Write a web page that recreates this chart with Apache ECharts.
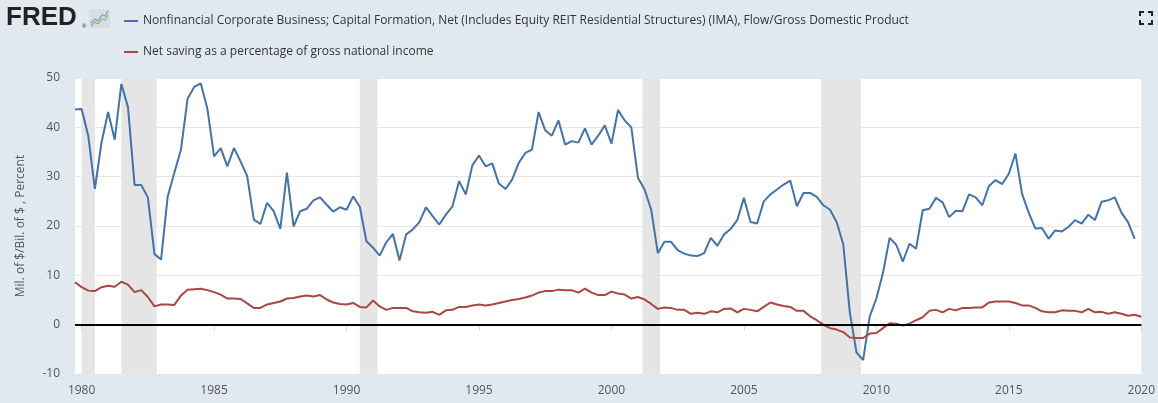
<!DOCTYPE html>
<html><head><meta charset="utf-8">
<script src="https://cdn.jsdelivr.net/npm/echarts@6/dist/echarts.min.js"></script>
<style>html,body{margin:0;padding:0;background:#e1e9f0;}#c{width:1158px;height:403px;}</style>
</head><body><div id="c"></div>
<script>
// ---- data ----
const startYear = 1979, startQuarter = 4; // first observation 1979Q4
const xTickYears = [1980, 1985, 1990, 1995, 2000, 2005, 2010, 2015, 2020];
const yMin = -10, yMax = 50, yStep = 10;
const blueName = 'Nonfinancial Corporate Business; Capital Formation, Net (Includes Equity REIT Residential Structures) (IMA), Flow/Gross Domestic Product';
const redName = 'Net saving as a percentage of gross national income';
const blueValues = [
  43.6,
  43.7, 38.3, 27.5, 36.9,
  43.1, 37.5, 48.8, 44.1,
  28.3, 28.3, 25.8, 14.3,
  13.2, 26.0, 30.8, 35.5,
  45.8, 48.2, 48.9, 43.7,
  34.1, 35.8, 32.1, 35.8,
  33.1, 30.1, 21.3, 20.4,
  24.7, 23.0, 19.4, 30.8,
  19.9, 23.0, 23.5, 25.2,
  25.8, 24.3, 22.9, 23.8,
  23.3, 26.0, 23.9, 16.9,
  15.6, 14.0, 16.7, 18.4,
  13.0, 18.3, 19.3, 20.8,
  23.8, 22.0, 20.3, 22.3,
  24.0, 29.1, 26.4, 32.3,
  34.3, 32.1, 32.7, 28.6,
  27.5, 29.4, 32.8, 34.8,
  35.5, 43.1, 39.4, 38.3,
  41.4, 36.5, 37.2, 36.9,
  39.8, 36.5, 38.3, 40.4,
  36.7, 43.5, 41.4, 40.0,
  29.8, 27.4, 23.3, 14.5,
  16.8, 16.8, 15.1, 14.4,
  14.0, 13.9, 14.5, 17.6,
  16.0, 18.3, 19.4, 21.2,
  25.7, 20.8, 20.5, 25.0,
  26.4, 27.4, 28.4, 29.2,
  24.0, 26.7, 26.7, 25.9,
  24.2, 23.3, 20.8, 16.3,
  2.4, -5.6, -7.2, 1.7,
  5.3, 10.5, 17.6, 16.2,
  12.8, 16.4, 15.4, 23.2,
  23.5, 25.7, 24.8, 21.8,
  23.1, 23.0, 26.4, 25.8,
  24.2, 28.1, 29.3, 28.5,
  30.6, 34.7, 26.5, 22.7,
  19.5, 19.6, 17.4, 19.1,
  18.9, 19.8, 21.2, 20.5,
  22.3, 21.2, 24.9, 25.2,
  25.8, 22.7, 20.8, 17.4
];
const redValues = [
  8.6,
  7.6, 6.9, 6.8, 7.6,
  7.9, 7.7, 8.7, 8.1,
  6.6, 7.0, 5.6, 3.7,
  4.1, 4.1, 4.0, 5.9,
  7.1, 7.2, 7.3, 7.0,
  6.6, 6.1, 5.3, 5.3,
  5.2, 4.3, 3.4, 3.4,
  4.1, 4.4, 4.7, 5.3,
  5.4, 5.7, 5.9, 5.7,
  6.0, 5.1, 4.5, 4.2,
  4.1, 4.4, 3.6, 3.5,
  4.9, 3.7, 3.0, 3.4,
  3.4, 3.4, 2.7, 2.5,
  2.4, 2.6, 2.0, 2.9,
  3.0, 3.6, 3.6, 3.9,
  4.1, 3.9, 4.1, 4.4,
  4.7, 5.0, 5.2, 5.5,
  5.9, 6.5, 6.8, 6.8,
  7.1, 7.0, 7.0, 6.5,
  7.3, 6.5, 6.0, 6.0,
  6.7, 6.3, 6.1, 5.3,
  5.6, 5.1, 4.2, 3.2,
  3.5, 3.4, 3.0, 3.0,
  2.2, 2.4, 2.2, 2.7,
  2.5, 3.2, 3.3, 2.5,
  3.2, 3.0, 2.7, 3.6,
  4.5, 4.1, 3.8, 3.6,
  2.8, 2.8, 1.7, 0.9,
  0.0, -0.7, -1.0, -1.5,
  -2.6, -2.7, -2.7, -1.8,
  -1.7, -0.7, 0.3, 0.2,
  -0.2, 0.2, 0.9, 1.5,
  2.8, 3.0, 2.5, 3.2,
  2.9, 3.4, 3.4, 3.5,
  3.5, 4.5, 4.7, 4.7,
  4.7, 4.4, 3.9, 3.9,
  3.4, 2.7, 2.5, 2.5,
  2.9, 2.8, 2.8, 2.5,
  3.2, 2.5, 2.6, 2.2,
  2.5, 2.2, 1.8, 2.0,
  1.6
];
const recessions = [
  ['1980-01', '1980-07'],
  ['1981-07', '1982-11'],
  ['1990-07', '1991-03'],
  ['2001-03', '2001-11'],
  ['2007-12', '2009-06']
];
// ---- helpers ----
const qYear = i => startYear + (startQuarter - 1) / 4 + i / 4;
const mYear = s => { const [y, m] = s.split('-').map(Number); return y + (m - 1) / 12; };
const toPairs = arr => arr.map((v, i) => [qYear(i), v]);
const xMin = qYear(0), xMax = qYear(redValues.length - 1);

const chart = echarts.init(document.getElementById('c'), null, {renderer: 'canvas'});
const FONT = 'Open Sans';
chart.setOption({
  backgroundColor: '#e1e9f0',
  animation: false,
  textStyle: {fontFamily: FONT},
  grid: {left: 75, right: 13, top: 78, bottom: 29, show: true, backgroundColor: '#ffffff', borderWidth: 0},
  legend: {
    orient: 'vertical', left: 119, top: 10, itemGap: 19,
    icon: 'rect', itemWidth: 14, itemHeight: 2,
    textStyle: {fontSize: 12, color: '#333', fontFamily: FONT},
    data: [blueName, redName], selectedMode: false
  },
  xAxis: {
    type: 'value', min: xMin, max: xMax,
    splitLine: {show: false},
    axisLine: {show: true, lineStyle: {color: '#ccd6eb', width: 1}},
    axisTick: {show: true, customValues: xTickYears, length: 6, lineStyle: {color: '#ccd6eb'}},
    axisLabel: {customValues: xTickYears, formatter: v => String(v), color: '#555', fontSize: 12, margin: 11}
  },
  yAxis: {
    type: 'value', min: yMin, max: yMax, interval: yStep,
    name: 'Mil. of $/Bil. of $ , Percent', nameLocation: 'middle', nameGap: 48,
    nameTextStyle: {color: '#555', fontSize: 12},
    axisLine: {show: false}, axisTick: {show: false},
    axisLabel: {color: '#555', fontSize: 12, margin: 15},
    splitLine: {lineStyle: {color: '#e6e6e6', width: 1}}
  },
  series: [
    {
      name: 'recessions', type: 'line', data: [], z: 1, silent: true,
      markArea: {silent: true, itemStyle: {color: '#e5e5e5'},
        data: recessions.map(r => [{xAxis: mYear(r[0])}, {xAxis: mYear(r[1])}])}
    },
    {
      name: blueName, type: 'line', data: toPairs(blueValues), z: 3,
      showSymbol: false, symbol: 'none', color: '#4572a7',
      lineStyle: {width: 2, color: '#4572a7'}
    },
    {
      name: redName, type: 'line', data: toPairs(redValues), z: 3,
      showSymbol: false, symbol: 'none', color: '#aa4643',
      lineStyle: {width: 2, color: '#aa4643'}
    },
    {
      name: 'zero', type: 'line', data: [], z: 4, silent: true,
      markLine: {silent: true, symbol: 'none', label: {show: false},
        lineStyle: {color: '#000', width: 2, type: 'solid'}, data: [{yAxis: 0}]}
    }
  ],
  graphic: [
    {type: 'text', left: 6, top: 5, style: {text: 'FRED', fontSize: 26, fontWeight: 900, fill: '#222', fontFamily: 'Liberation Sans', letterSpacing: 1.5}},
    {type: 'text', left: 82, top: 23, style: {text: '®', fontSize: 6, fill: '#222'}},
    {type: 'rect', shape: {x: 89, y: 9, width: 21, height: 19, r: 2}, style: {fill: '#d6dde3'}},
    {type: 'polyline', shape: {points: [[91, 23], [95, 19], [98, 21], [102, 15], [105, 16], [108, 11]]}, style: {stroke: '#6fa0c8', lineWidth: 1.2, fill: null}},
    {type: 'polyline', shape: {points: [[91, 26], [95, 22], [98, 24], [102, 19], [105, 20], [108, 15]]}, style: {stroke: '#8ab86a', lineWidth: 1.2, fill: null}},
    {type: 'polyline', shape: {points: [[1140, 16], [1140, 12], [1144, 12]]}, style: {stroke: '#222', lineWidth: 2, fill: null}},
    {type: 'polyline', shape: {points: [[1148, 12], [1152, 12], [1152, 16]]}, style: {stroke: '#222', lineWidth: 2, fill: null}},
    {type: 'polyline', shape: {points: [[1140, 20], [1140, 24], [1144, 24]]}, style: {stroke: '#222', lineWidth: 2, fill: null}},
    {type: 'polyline', shape: {points: [[1148, 24], [1152, 24], [1152, 20]]}, style: {stroke: '#222', lineWidth: 2, fill: null}}
  ]
});
</script>
</body></html>
